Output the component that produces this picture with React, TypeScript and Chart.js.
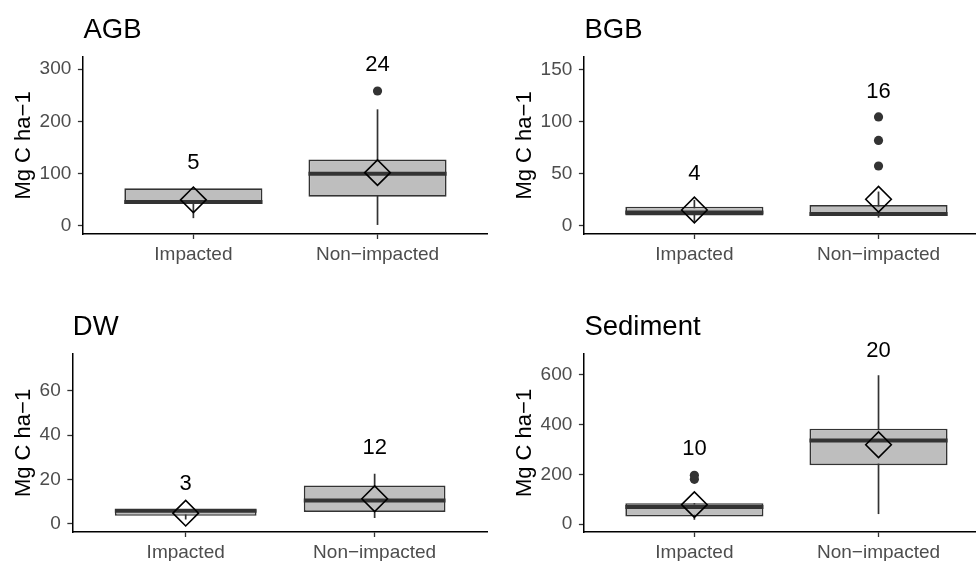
import React, { useEffect, useRef } from 'react';
import { Chart, registerables } from 'chart.js';

Chart.register(...registerables);

const FONT = '"Liberation Sans", Arial, Helvetica, sans-serif';

const categories = ['Impacted', 'Non\u2212impacted'];
const yAxisTitle = 'Mg C ha\u22121';

// AGB
const agbLow = [15, 2];
const agbQ1 = [42, 56];
const agbMedian = [46, 100];
const agbQ3 = [72, 127];
const agbHigh = [72, 223];
const agbMean = [50, 102];
const agbOutliers = [[], [258]];
const agbCounts = [5, 24];
const agbLabelY = [120, 307];
const agbTicks = [0, 100, 200, 300];

// BGB
const bgbLow = [4, 8];
const bgbQ1 = [10, 9.6];
const bgbMedian = [13, 11.5];
const bgbQ3 = [18.5, 20];
const bgbHigh = [25, 33];
const bgbMean = [15.3, 25.6];
const bgbOutliers = [[], [57.5, 82, 104.5]];
const bgbCounts = [4, 16];
const bgbLabelY = [50, 128.7];
const bgbTicks = [0, 50, 100, 150];

// DW
const dwLow = [2, 2.6];
const dwQ1 = [3.6, 5.3];
const dwMedian = [5.9, 10.5];
const dwQ3 = [6.6, 17.3];
const dwHigh = [6.6, 22.6];
const dwMean = [4.8, 11.3];
const dwOutliers = [[], []];
const dwCounts = [3, 12];
const dwLabelY = [18, 34.2];
const dwTicks = [0, 20, 40, 60];

// Sediment
const sedLow = [17, 40];
const sedQ1 = [30.5, 237];
const sedMedian = [68, 336];
const sedQ3 = [84, 384];
const sedHigh = [84, 599];
const sedMean = [78, 319];
const sedOutliers = [[180, 196], []];
const sedCounts = [10, 20];
const sedLabelY = [301, 698];
const sedTicks = [0, 200, 400, 600];

const BOX_HALF = 0.375;

type PanelCfg = {
  title: string;
  low: number[]; q1: number[]; median: number[]; q3: number[]; high: number[];
  mean: number[]; outliers: number[][]; counts: number[]; labelY: number[];
  ticks: number[]; yMin: number; yMax: number;
  left: number; top: number; xHeight: number;
};

const panels: PanelCfg[] = [
  { title: 'AGB', low: agbLow, q1: agbQ1, median: agbMedian, q3: agbQ3, high: agbHigh, mean: agbMean, outliers: agbOutliers, counts: agbCounts, labelY: agbLabelY, ticks: agbTicks, yMin: -15.3, yMax: 323, left: 0, top: 0, xHeight: 63 },
  { title: 'BGB', low: bgbLow, q1: bgbQ1, median: bgbMedian, q3: bgbQ3, high: bgbHigh, mean: bgbMean, outliers: bgbOutliers, counts: bgbCounts, labelY: bgbLabelY, ticks: bgbTicks, yMin: -7.7, yMax: 162, left: 501, top: 0, xHeight: 63 },
  { title: 'DW', low: dwLow, q1: dwQ1, median: dwMedian, q3: dwQ3, high: dwHigh, mean: dwMean, outliers: dwOutliers, counts: dwCounts, labelY: dwLabelY, ticks: dwTicks, yMin: -3.7, yMax: 76.7, left: 0, top: 297, xHeight: 62 },
  { title: 'Sediment', low: sedLow, q1: sedQ1, median: sedMedian, q3: sedQ3, high: sedHigh, mean: sedMean, outliers: sedOutliers, counts: sedCounts, labelY: sedLabelY, ticks: sedTicks, yMin: -32.2, yMax: 684.5, left: 501, top: 297, xHeight: 62 },
];

const textPlugin = {
  id: 'panelText',
  afterDatasetsDraw(chart: any, _args: any, opts: any) {
    const { ctx, chartArea, scales } = chart;
    ctx.save();
    ctx.fillStyle = '#000000';
    ctx.font = `27.5px ${FONT}`;
    ctx.textAlign = 'left';
    ctx.textBaseline = 'alphabetic';
    ctx.fillText(opts.title, chartArea.left + 0.5, 37.5);
    ctx.font = `22px ${FONT}`;
    ctx.textAlign = 'center';
    ctx.textBaseline = 'middle';
    (opts.counts as number[]).forEach((n, i) => {
      ctx.fillText(String(n), scales.x.getPixelForValue(i + 1), scales.y.getPixelForValue(opts.labelY[i]));
    });
    ctx.restore();
  },
};

function Panel({ cfg }: { cfg: PanelCfg }) {
  const ref = useRef<HTMLCanvasElement | null>(null);
  useEffect(() => {
    if (!ref.current) return;
    const datasets: any[] = [];
    cfg.low.forEach((lo, i) => {
      datasets.push({
        type: 'line',
        data: [{ x: i + 1, y: lo }, { x: i + 1, y: cfg.high[i] }],
        borderColor: '#333333',
        borderWidth: 1.7,
        pointRadius: 0,
        fill: false,
        order: 5,
      });
    });
    datasets.push({
      type: 'bar',
      data: cfg.q1.map((q, i) => ({ x: i + 1, y: [q, cfg.q3[i]] })),
      backgroundColor: '#bebebe',
      borderColor: '#333333',
      borderWidth: 1.7,
      borderSkipped: false,
      categoryPercentage: 1,
      barPercentage: 0.75,
      order: 4,
    });
    datasets.push({
      type: 'scatter',
      data: cfg.median.map((m, i) => ({ x: i + 1, y: m })),
      pointStyle: 'line',
      pointRadius: (c: any) => {
        const xs = c.chart.scales.x;
        const r = Math.abs(xs.getPixelForValue(1 + BOX_HALF) - xs.getPixelForValue(1));
        return isFinite(r) ? r : 0;
      },
      pointBorderColor: '#333333',
      pointBorderWidth: 4,
      order: 3,
    });
    datasets.push({
      type: 'scatter',
      data: cfg.outliers.flatMap((arr, i) => arr.map((v) => ({ x: i + 1, y: v }))),
      pointStyle: 'circle',
      pointRadius: 4.6,
      pointBackgroundColor: '#333333',
      pointBorderWidth: 0,
      order: 2,
    });
    datasets.push({
      type: 'scatter',
      data: cfg.mean.map((m, i) => ({ x: i + 1, y: m })),
      pointStyle: 'rectRot',
      pointRadius: 12.8,
      pointBackgroundColor: 'rgba(0,0,0,0)',
      pointBorderColor: '#000000',
      pointBorderWidth: 1.6,
      order: 1,
    });

    const chart = new Chart(ref.current, {
      type: 'bar',
      data: { datasets },
      plugins: [textPlugin],
      options: {
        animation: false,
        responsive: false,
        devicePixelRatio: 1,
        events: [],
        layout: { autoPadding: false, padding: { top: 57, left: 0, right: 0, bottom: 0 } },
        plugins: {
          legend: { display: false },
          tooltip: { enabled: false },
          title: { display: false },
          panelText: { title: cfg.title, counts: cfg.counts, labelY: cfg.labelY },
        } as any,
        scales: {
          x: {
            type: 'linear',
            min: 0.4,
            max: 2.6,
            bounds: 'data',
            offset: false,
            afterBuildTicks: (s: any) => {
              s.ticks = categories.map((_, i) => ({ value: i + 1 }));
            },
            afterFit: (s: any) => {
              s.height = cfg.xHeight;
              s.paddingLeft = 0;
              s.paddingRight = 0;
            },
            ticks: {
              callback: (v: any) => categories[Number(v) - 1] ?? '',
              autoSkip: false,
              maxRotation: 0,
              minRotation: 0,
              color: '#4d4d4d',
              font: { family: FONT, size: 19 },
              padding: 4,
            },
            grid: { display: true, offset: false, drawOnChartArea: false, drawTicks: true, tickLength: 5, tickColor: '#333333', tickWidth: 1.3 },
            border: { display: true, color: '#000000', width: 1.5 },
          },
          y: {
            type: 'linear',
            min: cfg.yMin,
            max: cfg.yMax,
            bounds: 'data',
            afterBuildTicks: (s: any) => {
              s.ticks = cfg.ticks.map((v) => ({ value: v }));
            },
            ticks: {
              color: '#4d4d4d',
              font: { family: FONT, size: 19 },
              padding: 6.6,
            },
            grid: { display: true, offset: false, drawOnChartArea: false, drawTicks: true, tickLength: 5, tickColor: '#333333', tickWidth: 1.3 },
            border: { display: true, color: '#000000', width: 1.5 },
            title: {
              display: true,
              text: yAxisTitle,
              color: '#000000',
              font: { family: FONT, size: 22, lineHeight: 1 },
              padding: { top: 12.5, bottom: -1.5 },
            },
          },
        } as any,
      } as any,
    } as any);
    return () => chart.destroy();
  }, [cfg]);

  return (
    <div style={{ position: 'absolute', left: cfg.left, top: cfg.top, width: 488, height: 297 }}>
      <canvas ref={ref} width={488} height={297} style={{ display: 'block', width: 488, height: 297 }} />
    </div>
  );
}

export default function App() {
  return (
    <div style={{ position: 'absolute', left: 0, top: 0, width: 976, height: 561, overflow: 'hidden', background: '#ffffff' }}>
      {panels.map((p) => (
        <Panel key={p.title} cfg={p} />
      ))}
    </div>
  );
}
